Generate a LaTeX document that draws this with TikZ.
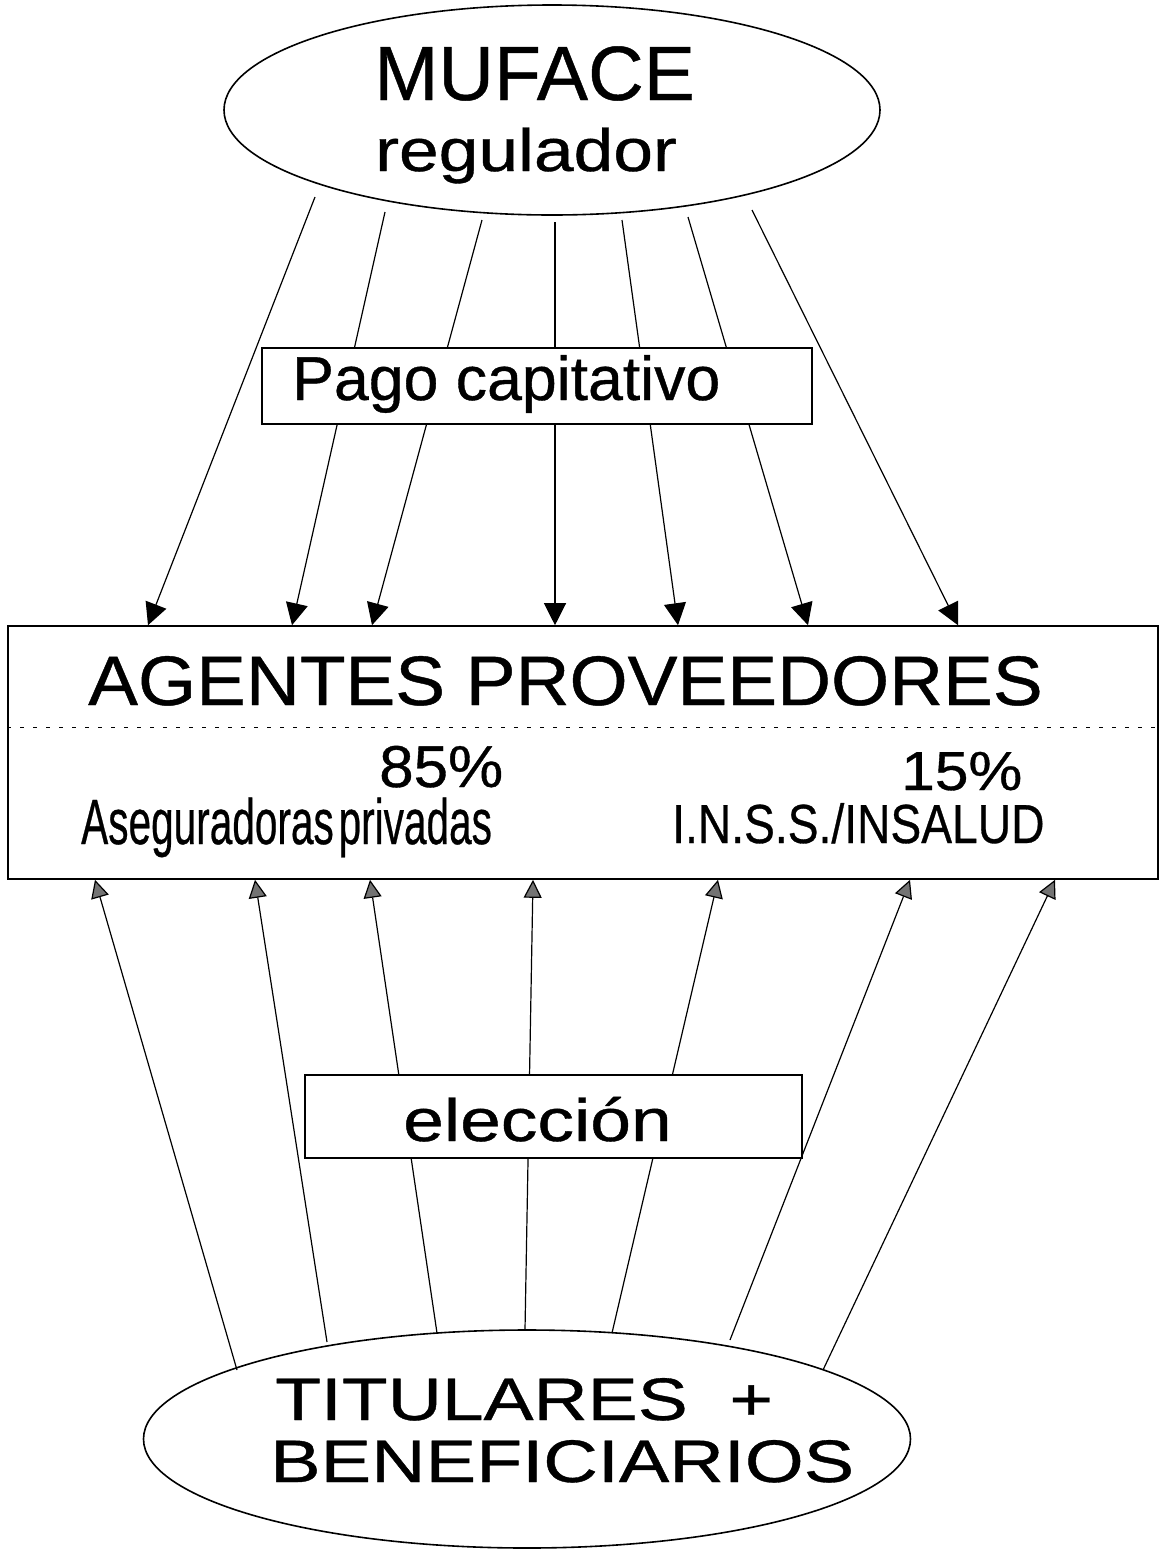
\documentclass[tikz,border=0pt]{standalone}
\usepackage{fontspec}
\setmainfont{Liberation Sans}[FakeBold=0.6]
\usetikzlibrary{shapes.geometric,arrows.meta}
\newcommand\ftxt[3]{\scalebox{#1}[1]{\fontsize{#2}{#2}\selectfont #3}}
\begin{document}
\begin{tikzpicture}[x=1pt,y=-1pt,
  conn/.style={line width=1.2pt},
  downarr/.style={conn,-{Triangle[length=22pt,width=22pt]}},
  uparr/.style={conn,-{Triangle[length=18pt,width=18pt,fill=black!55]}},
  oval/.style={ellipse,draw,line width=1.6pt,inner sep=0pt},
  frame/.style={rectangle,draw,line width=1.5pt,fill=white,inner sep=0pt},
  lbl/.style={inner sep=0pt,anchor=base west}]
\useasboundingbox (0,0) rectangle (1162,1551);
% ellipses and main box
\node[oval,minimum width=656pt,minimum height=210pt] (muface) at (552,110) {};
\node[oval,minimum width=767pt,minimum height=218pt] (titulares) at (527,1439) {};
\node[rectangle,draw,line width=1.6pt,inner sep=0pt,minimum width=1150pt,minimum height=253pt] (agentes) at (583,752.5) {};
% top connectors
\coordinate (t1s) at (315,197); \coordinate (t1e) at (148,626);
\coordinate (t2s) at (385,212); \coordinate (t2e) at (292,626);
\coordinate (t3s) at (482,220); \coordinate (t3e) at (372,626);
\coordinate (t4s) at (555,222); \coordinate (t4e) at (555,626);
\coordinate (t5s) at (622,220); \coordinate (t5e) at (678,626);
\coordinate (t6s) at (688,217); \coordinate (t6e) at (808,626);
\coordinate (t7s) at (752,210); \coordinate (t7e) at (958,626);
\foreach \i in {1,...,7}{\draw[downarr] (t\i s) -- (t\i e |- agentes.north);}
% bottom connectors
\coordinate (b1s) at (237,1370); \coordinate (b1e) at (95,879);
\coordinate (b2s) at (327,1342); \coordinate (b2e) at (255,879);
\coordinate (b3s) at (437,1333); \coordinate (b3e) at (370,879);
\coordinate (b4s) at (525,1330); \coordinate (b4e) at (533,879);
\coordinate (b5s) at (612,1333); \coordinate (b5e) at (718,879);
\coordinate (b6s) at (730,1340); \coordinate (b6e) at (910,879);
\coordinate (b7s) at (823,1370); \coordinate (b7e) at (1055,879);
\foreach \i in {1,...,7}{\draw[uparr] (b\i s) -- (b\i e |- agentes.south);}
% label boxes
\node[frame,minimum width=550pt,minimum height=76pt] (pago) at (537,386) {};
\node[frame,minimum width=497pt,minimum height=83pt] (eleccion) at (553.5,1116.5) {};
% dashed divider
\draw[line width=1pt,dash pattern=on 4pt off 9pt] (agentes.west |- 0,727) -- (agentes.east |- 0,727);
% texts
\node[lbl] (t-muface) at (374,100) {\ftxt{1}{77}{MUFACE}};
\node[lbl] (t-reg) at (375,171) {\ftxt{1.19}{60}{regulador}};
\node[lbl] (t-pago) at (292,400) {\ftxt{1.01}{62}{Pago capitativo}};
\node[lbl] (t-agentes) at (88,705) {\ftxt{1.067}{70}{AGENTES PROVEEDORES}};
\node[lbl] (t-85) at (379,787) {\ftxt{1.05}{59}{85\%}};
\node[lbl] (t-aseg) at (81,844) {\ftxt{0.634}{64}{\spaceskip=0.12em Aseguradoras privadas}};
\node[lbl] (t-15) at (901,790) {\ftxt{1.1}{55}{15\%}};
\node[lbl] (t-inss) at (672,843) {\ftxt{0.84}{55}{I.N.S.S./INSALUD}};
\node[lbl] (t-elec) at (403,1141) {\ftxt{1.22}{60}{elección}};
\node[lbl] (t-tit) at (275,1420) {\ftxt{1.25}{60}{TITULARES \ +}};
\node[lbl] (t-ben) at (270,1482) {\ftxt{1.26}{60}{BENEFICIARIOS}};
\end{tikzpicture}
\end{document}
